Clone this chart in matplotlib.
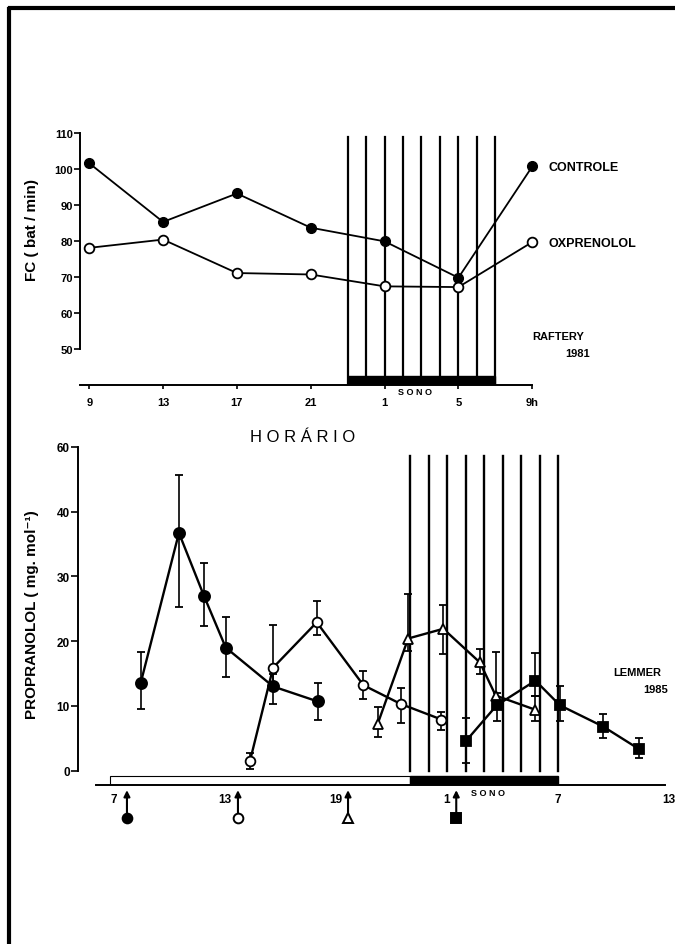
import numpy as np
import matplotlib
matplotlib.use('Agg')
import matplotlib.pyplot as plt
from matplotlib.lines import Line2D
from matplotlib.patches import Rectangle

plt.rcParams['font.family'] = ['Liberation Sans', 'DejaVu Sans']
plt.rcParams['font.weight'] = 'bold'

# ---------------- data: Raftery 1981 (top) ----------------
hours_top = [9, 13, 17, 21, 25, 29, 33]
hour_labels_top = ['9', '13', '17', '21', '1', '5', '9h']
fc_controle = [101.6, 85.3, 93.2, 83.7, 79.9, 69.8, 100.7]
fc_oxprenolol = [78.1, 80.4, 71.1, 70.7, 67.4, 67.2, 79.7]

# ---------------- data: Lemmer 1985 (bottom) ----------------
hour_ticks_bot = [7, 13, 19, 25, 31, 37]
hour_labels_bot = ['7', '13', '19', '1', '7', '13']
ytick_vals = [0, 10, 20, 30, 40, 50]
ytick_labels = ['0', '10', '20', '30', '40', '60']

h_dose7 = [8.44, 10.51, 11.86, 13.04, 15.6, 18.0]
v_dose7 = [13.5, 36.7, 27.0, 19.0, 13.0, 10.7]
hi_dose7 = [18.3, 45.6, 32.0, 23.7, 15.0, 13.5]
lo_dose7 = [9.5, 25.2, 22.4, 14.5, 10.3, 7.9]

h_dose13 = [14.35, 15.6, 17.96, 20.48, 22.5, 24.7]
v_dose13 = [1.5, 15.9, 22.9, 13.2, 10.3, 7.9]
hi_dose13 = [2.7, 22.5, 26.2, 15.4, 12.7, 9.0]
lo_dose13 = [0.2, 13.5, 21.0, 11.1, 7.4, 6.3]

h_dose19 = [21.25, 22.9, 24.8, 26.78, 27.63, 29.78]
v_dose19 = [7.2, 20.4, 21.9, 16.7, 11.6, 9.4]
hi_dose19 = [9.9, 27.3, 25.6, 18.8, 18.3, 11.5]
lo_dose19 = [5.2, 18.5, 18.0, 14.9, 9.5, 7.7]

h_dose1 = [26.03, 27.69, 29.78, 31.1, 33.45, 35.4]
v_dose1 = [4.6, 10.1, 13.9, 10.1, 6.8, 3.3]
hi_dose1 = [8.1, 12.0, 18.2, 13.0, 8.7, 5.0]
lo_dose1 = [1.2, 7.6, 11.5, 7.6, 5.0, 1.9]

dose_times = [7.7, 13.7, 19.65, 25.5]
sleep_start, sleep_end = 23, 31

W, H = 675, 945
fig = plt.figure(figsize=(W / 100, H / 100), dpi=100)

# scanned page frame
fig.add_artist(Line2D([10 / W, 1], [1 - 9 / H, 1 - 9 / H], color='black', lw=3))
fig.add_artist(Line2D([8.5 / W, 8.5 / W], [1 - 10 / H, 0], color='black', lw=3))

# ================= top panel =================
ax1 = fig.add_axes([80 / W, 1 - 386 / H, 520 / W, 258 / H])
ax1.set_xlim(8.5, 36.67)
ax1.set_ylim(40, 40 + 258 / 3.6)

for h in np.arange(sleep_start, sleep_end + 1):
    ax1.plot([h, h], [40, 108.8], color='black', lw=1.6, zorder=1)
ax1.add_patch(Rectangle((sleep_start, 40), sleep_end - sleep_start, 2.6,
                        facecolor='black', edgecolor='black', zorder=2))

ax1.plot(hours_top, fc_controle, '-o', color='black', lw=1.3, ms=7,
         mfc='black', mec='black', zorder=3)
ax1.plot(hours_top, fc_oxprenolol, '-o', color='black', lw=1.3, ms=7,
         mfc='white', mec='black', mew=1.3, zorder=3)

ax1.spines['top'].set_visible(False)
ax1.spines['right'].set_visible(False)
ax1.spines['left'].set_bounds(50, 110)
ax1.spines['bottom'].set_bounds(8.5, 33)
ax1.spines['left'].set_linewidth(1.4)
ax1.spines['bottom'].set_linewidth(1.4)
ax1.set_yticks(np.arange(50, 111, 10))
ax1.set_xticks(hours_top)
ax1.set_xticklabels(hour_labels_top)
ax1.tick_params(axis='y', length=4, width=1.2, pad=1, labelsize=8)
ax1.tick_params(axis='x', length=3, width=1.2, pad=6, labelsize=8)

ax1.text(26.66, 38.1, 'S O N O', fontsize=6.5, ha='center', va='center', clip_on=False)
ax1.text(33.87, 100.6, 'CONTROLE', fontsize=9, va='center')
ax1.text(33.87, 79.4, 'OXPRENOLOL', fontsize=9, va='center')
ax1.text(33.0, 53.6, 'RAFTERY', fontsize=8, va='center')
ax1.text(36.14, 48.9, '1981', fontsize=8, va='center', ha='right')

fig.text(32 / W, 1 - 230 / H, 'FC ( bat / min)', rotation=90, fontsize=11,
         ha='center', va='center')
fig.text(303 / W, 1 - 438 / H, 'H O R Á R I O', fontsize=12, ha='center',
         va='center', fontweight='normal')

# ================= bottom panel =================
px_unit = 6.48
ax2 = fig.add_axes([78 / W, 1 - 785.5 / H, 592 / W, (785.5 - 441) / H])
ax2.set_xlim(7 - 36 / 18.5, 7 + 556 / 18.5)
ax2.set_ylim(-(785.5 - 771.7) / px_unit, (771.7 - 441) / px_unit)
ybot = -(785.5 - 771.7) / px_unit

for h in np.arange(sleep_start, sleep_end + 1):
    ax2.plot([h, h], [0, 48.6], color='black', lw=1.7, zorder=1)
ax2.add_patch(Rectangle((6.78, ybot), sleep_start - 6.78, -0.8 - ybot,
                        facecolor='white', edgecolor='black', lw=0.8, zorder=2))
ax2.add_patch(Rectangle((sleep_start, ybot), sleep_end - sleep_start, -0.75 - ybot,
                        facecolor='black', edgecolor='black', zorder=2))

series = [
    (h_dose7, v_dose7, hi_dose7, lo_dose7, 'o', 'black', 8),
    (h_dose13, v_dose13, hi_dose13, lo_dose13, 'o', 'white', 7),
    (h_dose19, v_dose19, hi_dose19, lo_dose19, '^', 'white', 7.5),
    (h_dose1, v_dose1, hi_dose1, lo_dose1, 's', 'black', 7),
]
for hh, vv, hi, lo, mk, fc, ms in series:
    vv = np.array(vv)
    yerr = [vv - np.array(lo), np.array(hi) - vv]
    ax2.errorbar(hh, vv, yerr=yerr, fmt='-' + mk, color='black', lw=1.7,
                 ms=ms, mfc=fc, mec='black', mew=1.3, elinewidth=1.2,
                 capsize=3, capthick=1.2, zorder=3)

# dosing arrows below the axis
for (hd, mk, fc) in zip(dose_times, ['o', 'o', '^', 's'],
                        ['black', 'white', 'white', 'black']):
    ax2.annotate('', xy=(hd, -3.0), xytext=(hd, -7.1),
                 arrowprops=dict(arrowstyle='-|>', lw=1.5, color='black',
                                 mutation_scale=9, shrinkA=0, shrinkB=0),
                 annotation_clip=False)
    ax2.plot([hd], [-7.3], marker=mk, ms=7, mfc=fc, mec='black', mew=1.4,
             clip_on=False, zorder=4)

ax2.spines['top'].set_visible(False)
ax2.spines['right'].set_visible(False)
ax2.spines['left'].set_bounds(0, 50)
ax2.spines['bottom'].set_bounds(6.0, 36.8)
ax2.spines['left'].set_linewidth(1.4)
ax2.spines['bottom'].set_linewidth(1.4)
ax2.set_yticks(ytick_vals)
ax2.set_yticklabels(ytick_labels)
ax2.set_xticks(hour_ticks_bot)
ax2.set_xticklabels(hour_labels_bot)
ax2.tick_params(axis='y', length=5, width=1.2, pad=1, labelsize=8.5)
ax2.tick_params(axis='x', length=0, pad=6, labelsize=8.5)

ax2.text(27.19, -3.29, 'S O N O', fontsize=6.5, ha='center', va='center', clip_on=False)
ax2.text(33.97, 15.2, 'LEMMER', fontsize=8, va='center')
ax2.text(36.95, 12.6, '1985', fontsize=8, va='center', ha='right')

fig.text(32 / W, 1 - 615 / H, 'PROPRANOLOL ( mg. mol⁻¹)', rotation=90,
         fontsize=11, ha='center', va='center')

fig.savefig('out.png', dpi=100)
